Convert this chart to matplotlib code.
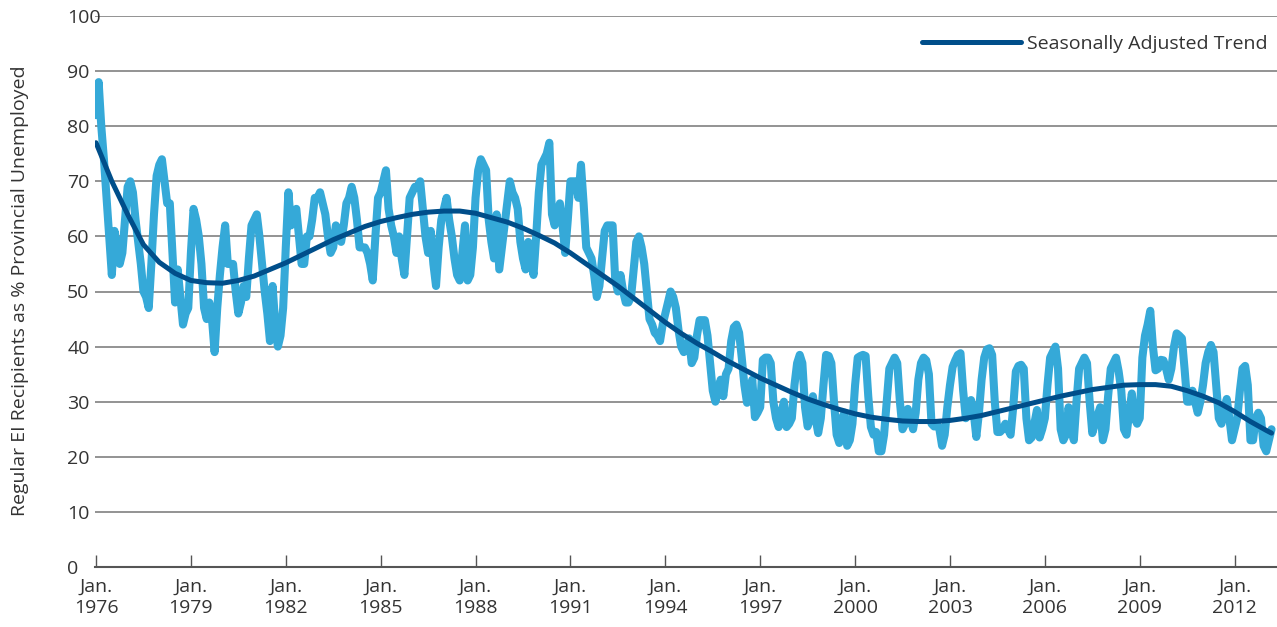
import numpy as np
import matplotlib
matplotlib.use("Agg")
import matplotlib.pyplot as plt

plt.rcParams["font.family"] = ["Open Sans", "DejaVu Sans"]

# monthly series, Jan. 1976 onwards (% of provincial unemployed on regular EI)
start_year = 1976
recipients_pct = [
    82, 88, 80, 74, 67, 60, 53, 61, 58, 55, 57, 63,            # 1976
    69, 70, 68, 63, 59, 55, 50, 49, 47, 55, 64, 71,            # 1977
    73, 74, 70, 66, 66, 57, 48, 54, 49, 44, 46, 47,            # 1978
    57, 65, 63, 60, 55, 47, 45, 48, 45, 39, 47, 53,            # 1979
    58, 62, 55, 55, 55, 50, 46, 48, 51, 49, 56, 62,            # 1980
    63, 64, 60, 55, 50, 46, 41, 51, 44, 40, 42, 47,            # 1981
    58, 68, 62, 64, 65, 60, 55, 55, 60, 60, 63, 67,            # 1982
    67, 68, 66, 64, 60, 57, 58, 62, 61, 59, 62, 66,            # 1983
    67, 69, 67, 63, 58, 58, 58, 57, 55, 52, 60, 67,            # 1984
    68, 70, 72, 65, 62, 60, 57, 60, 56, 53, 60, 67,            # 1985
    68, 69, 69, 70, 65, 60, 57, 61, 55, 51, 58, 63,            # 1986
    65, 67, 63, 60, 56, 53, 52, 57, 62, 52, 53, 58,            # 1987
    67, 72, 74, 73, 72, 63, 59, 56, 64, 54, 58, 62,            # 1988
    66, 70, 68, 67, 65, 59, 56, 54, 59, 56, 53, 60,            # 1989
    68, 73, 74, 75, 77, 64, 62, 64, 66, 62, 57, 63,            # 1990
    70, 70, 70, 67, 73, 66, 58, 57, 56, 53, 49, 51,            # 1991
    56, 61, 62, 62, 62, 52, 50, 53, 50, 48, 48, 49,            # 1992
    54, 59, 60, 58, 55, 50, 45, 44, 42.5, 42, 41, 44,          # 1993
    46, 48, 50, 49, 47, 43, 40, 39, 40, 41.5, 37, 38,          # 1994
    42, 44.8, 44.8, 44.8, 42, 37, 32, 30, 32, 34, 31, 35,      # 1995
    36, 41, 43.5, 44, 42.5, 38, 33, 29.8, 32, 34, 27.2, 28,    # 1996
    29, 37.6, 38, 38, 37, 30, 27, 25.4, 28, 30, 25.4, 26,      # 1997
    27, 33, 37, 38.5, 37, 29, 25.5, 27, 31, 27, 24.3, 27,      # 1998
    33, 38.5, 38.3, 37, 30, 24, 22.5, 27, 28, 22, 23, 26,      # 1999
    33, 38, 38.3, 38.5, 38.3, 31, 25.4, 24, 24.5, 21, 21, 24,  # 2000
    30, 36, 37, 38, 37, 30, 25, 26, 28.7, 27, 25, 28,          # 2001
    34, 37, 38, 37.5, 35, 26, 25.5, 26, 25, 22, 24, 29,        # 2002
    33, 36.3, 37.5, 38.5, 38.8, 32, 27, 29, 30.3, 28, 23.6, 28,  # 2003
    34, 38, 39.5, 39.7, 38.5, 30, 24.5, 24.5, 25, 26, 25, 24,  # 2004
    29, 35.5, 36.5, 36.7, 36, 27, 23, 23.5, 26, 28.5, 23.5, 25,  # 2005
    27, 33, 38, 39, 40, 36, 25, 23, 24, 29, 25, 23,            # 2006
    30, 36, 37, 38, 37, 30, 24.3, 26, 27.5, 29, 23, 25,        # 2007
    31, 36, 37, 38, 35.5, 32, 25, 24, 28, 31.5, 27, 26,        # 2008
    27, 38, 42, 44, 46.5, 40, 35.7, 36, 37.6, 37.5, 36, 34,    # 2009
    36, 40, 42.4, 42, 41.5, 36, 30, 30, 32, 30, 28, 30,        # 2010
    33, 37, 39, 40.3, 39, 33, 27, 26, 28, 30.5, 27, 23,        # 2011
    25, 27, 32, 36, 36.5, 33, 23, 23, 27, 28, 27, 22,          # 2012
    21, 23, 25,                                                # 2013
]

# seasonally adjusted trend, read every half year from Jan. 1976, last point Mar. 2013
trend_pct = [
    77, 70, 64, 58.5, 55.3, 53.3, 52, 51.6, 51.5, 52,          # 1976-1980.5
    52.8, 54, 55.2, 56.6, 58, 59.4, 60.6, 61.8, 62.7, 63.4,    # 1981-1985.5
    64, 64.4, 64.6, 64.6, 64.2, 63.4, 62.6, 61.5, 60.2, 58.8,  # 1986-1990.5
    57, 55, 53, 51, 48.8, 46.6, 44.4, 42.4, 40.6, 39,          # 1991-1995.5
    37.3, 35.8, 34.3, 33, 31.7, 30.5, 29.5, 28.6, 27.8, 27.2,  # 1996-2000.5
    26.8, 26.5, 26.4, 26.4, 26.6, 27, 27.5, 28.2, 28.9, 29.6,  # 2001-2005.5
    30.3, 31, 31.6, 32.2, 32.6, 33, 33.1, 33.1, 32.8, 32,      # 2006-2010.5
    31, 29.8, 28.2, 26.4, 24.8, 24.3,                          # 2011-2013.17
]

tick_years = list(range(1976, 2013, 3))
y_ticks = list(range(0, 101, 10))

month_t = start_year + np.arange(len(recipients_pct)) / 12.0
trend_t = start_year + np.arange(len(trend_pct) - 1) * 0.5
trend_t = np.append(trend_t, month_t[-1])

fig = plt.figure(figsize=(12.77, 6.27), dpi=100)
ax = fig.add_axes([95 / 1277, 60 / 627, 1182 / 1277, 551 / 627])

ax.plot(month_t, recipients_pct, color="#35a9d8", lw=5.8,
        solid_joinstyle="round", solid_capstyle="round", zorder=3)
ax.plot(trend_t, trend_pct, color="#004e8a", lw=3.6,
        solid_capstyle="round", zorder=4, label="Seasonally Adjusted Trend")

ax.set_xlim(1975.968, 2013.34)
ax.set_ylim(0, 100)
ax.set_yticks(y_ticks)
ax.set_yticklabels([str(v) for v in y_ticks])
for lab in ax.get_yticklabels():
    lab.set_horizontalalignment("left")
ax.set_xticks(tick_years)
ax.set_xticklabels(["Jan.\n%d" % y for y in tick_years])

ax.grid(axis="y", color="#8a8a8a", lw=1.3)
ax.set_axisbelow(True)
for side in ["left", "right", "top"]:
    ax.spines[side].set_visible(False)
ax.spines["bottom"].set_color("#555555")
ax.spines["bottom"].set_linewidth(1.5)

ax.tick_params(axis="y", length=0, pad=20, labelsize=14, labelcolor="#333333")
ax.tick_params(axis="x", direction="in", length=9, width=1, color="#555555",
               pad=8, labelsize=14, labelcolor="#333333")

fig.text(20 / 1277, (627 - 291) / 627,
         "Regular EI Recipients as % Provincial Unemployed",
         rotation=90, ha="center", va="center", fontsize=14, color="#333333")

leg = ax.legend(loc="center right", bbox_to_anchor=(1.007, 0.949),
                frameon=False, fontsize=14, handlelength=5.1, handletextpad=0.3,
                labelcolor="#333333")

fig.savefig("out.png", dpi=100)
